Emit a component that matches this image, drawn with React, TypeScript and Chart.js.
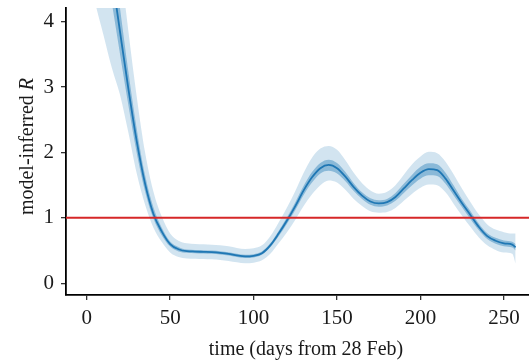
import React, { useEffect, useRef } from 'react';
import { Chart, registerables } from 'chart.js';

Chart.register(...registerables);

// ---- data ----
const days = [
  0, 5, 10, 15, 20, 25, 30, 35, 40, 45, 50, 55, 60, 65, 70, 75, 80, 85, 90, 95,
  100, 105, 110, 115, 120, 125, 130, 135, 140, 145, 150, 155, 160, 165, 170, 175,
  180, 185, 190, 195, 200, 205, 210, 215, 220, 225, 230, 235, 240, 245, 250, 255, 257,
];
const meanR = [
  7.3, 6.5, 5.6, 4.73, 3.84, 2.97, 2.17, 1.52, 1.06, 0.79, 0.6, 0.52, 0.49, 0.485, 0.48, 0.475, 0.465, 0.45, 0.425, 0.41,
  0.42, 0.46, 0.58, 0.76, 0.96, 1.18, 1.42, 1.62, 1.76, 1.81, 1.76, 1.63, 1.47, 1.34, 1.25, 1.22,
  1.24, 1.32, 1.45, 1.58, 1.69, 1.745, 1.73, 1.6, 1.41, 1.22, 1.04, 0.86, 0.72, 0.65, 0.61, 0.59, 0.55,
];
const outerLow = [
  4.9, 4.3, 3.8, 3.3, 2.88, 2.3, 1.68, 1.2, 0.85, 0.63, 0.47, 0.4, 0.38, 0.375, 0.37, 0.365, 0.355, 0.34, 0.32, 0.305,
  0.315, 0.35, 0.45, 0.61, 0.78, 0.97, 1.18, 1.36, 1.5, 1.57, 1.54, 1.43, 1.29, 1.18, 1.1, 1.08,
  1.09, 1.15, 1.26, 1.37, 1.46, 1.51, 1.5, 1.39, 1.21, 1.03, 0.86, 0.7, 0.58, 0.51, 0.47, 0.45, 0.3,
];
const outerHigh = [
  9.6, 8.5, 7.3, 6.15, 4.95, 3.85, 2.85, 2.0, 1.4, 1.02, 0.76, 0.65, 0.61, 0.6, 0.595, 0.59, 0.58, 0.565, 0.54, 0.525,
  0.535, 0.58, 0.72, 0.93, 1.16, 1.41, 1.69, 1.92, 2.06, 2.1, 2.04, 1.88, 1.69, 1.53, 1.42, 1.37,
  1.4, 1.5, 1.66, 1.82, 1.94, 2.01, 1.99, 1.86, 1.66, 1.44, 1.24, 1.05, 0.9, 0.82, 0.78, 0.76, 0.76,
];
const innerLow = [
  6.6, 5.9, 5.1, 4.3, 3.5, 2.72, 1.99, 1.4, 0.985, 0.73, 0.56, 0.485, 0.465, 0.46, 0.455, 0.45, 0.44, 0.425, 0.4, 0.385,
  0.395, 0.435, 0.55, 0.72, 0.91, 1.12, 1.35, 1.54, 1.68, 1.72, 1.68, 1.56, 1.41, 1.29, 1.2, 1.17,
  1.19, 1.26, 1.38, 1.5, 1.6, 1.65, 1.64, 1.52, 1.34, 1.16, 0.98, 0.81, 0.675, 0.605, 0.565, 0.545, 0.5,
];
const innerHigh = [
  8.0, 7.1, 6.1, 5.15, 4.2, 3.23, 2.36, 1.65, 1.16, 0.85, 0.64, 0.555, 0.515, 0.51, 0.505, 0.5, 0.49, 0.475, 0.45, 0.435,
  0.445, 0.485, 0.61, 0.8, 1.01, 1.24, 1.49, 1.7, 1.84, 1.89, 1.84, 1.7, 1.53, 1.39, 1.3, 1.27,
  1.29, 1.38, 1.52, 1.66, 1.78, 1.835, 1.82, 1.69, 1.49, 1.28, 1.1, 0.91, 0.765, 0.695, 0.655, 0.635, 0.6,
];
const xTicks = [0, 50, 100, 150, 200, 250];
const yTicks = [0, 1, 2, 3, 4];
const thresholdR = 1;
const X_MIN = -12.4;
const X_MAX = 275.2;
const Y_MIN = -0.18;
const Y_MAX = 4.21;
const X_TITLE = 'time (days from 28 Feb)';
const Y_TITLE_MAIN = 'model-inferred ';
const Y_TITLE_VAR = 'R';

const FAMILY = "'Liberation Serif', 'Times New Roman', serif";
const TEXT_COLOR = '#1a1a1a';
const BLUE = '#1f77b4';

const pts = (arr: number[]) => days.map((d, i) => ({ x: d, y: arr[i] }));

const overlayPlugin = {
  id: 'overlay',
  afterDatasetsDraw(chart: any) {
    const { ctx, chartArea, scales } = chart;
    const y = scales.y.getPixelForValue(thresholdR);
    ctx.save();
    ctx.strokeStyle = '#d62728';
    ctx.lineWidth = 2;
    ctx.beginPath();
    ctx.moveTo(chartArea.left, y);
    ctx.lineTo(chartArea.right, y);
    ctx.stroke();
    ctx.restore();
  },
  afterDraw(chart: any) {
    const { ctx, chartArea } = chart;
    const cy = (chartArea.top + chartArea.bottom) / 2 - 5;
    ctx.save();
    ctx.translate(33, cy);
    ctx.rotate(-Math.PI / 2);
    ctx.fillStyle = TEXT_COLOR;
    ctx.textBaseline = 'alphabetic';
    const f1 = `20px ${FAMILY}`;
    const f2 = `italic 20px ${FAMILY}`;
    ctx.font = f1;
    const w1 = ctx.measureText(Y_TITLE_MAIN).width;
    ctx.font = f2;
    const w2 = ctx.measureText(Y_TITLE_VAR).width;
    const start = -(w1 + w2) / 2;
    ctx.font = f1;
    ctx.fillText(Y_TITLE_MAIN, start, 0);
    ctx.font = f2;
    ctx.fillText(Y_TITLE_VAR, start + w1, 0);
    ctx.restore();
  },
};

export default function App() {
  const ref = useRef<HTMLCanvasElement>(null);

  useEffect(() => {
    document.documentElement.style.overflow = 'hidden';
    document.body.style.margin = '0';
    document.body.style.overflow = 'hidden';

    const band = {
      pointRadius: 0,
      borderWidth: 0,
      cubicInterpolationMode: 'monotone' as const,
      clip: 0,
    };
    const tickFont = { family: FAMILY, size: 21 };
    const titleFont = { family: FAMILY, size: 20 };

    const chart = new Chart(ref.current!, {
      type: 'line',
      data: {
        datasets: [
          { ...band, label: 'outer high', data: pts(outerHigh), fill: '+1', backgroundColor: 'rgba(31,119,180,0.2)', borderColor: 'rgba(0,0,0,0)', order: 3 },
          { ...band, label: 'outer low', data: pts(outerLow), fill: false, borderColor: 'rgba(0,0,0,0)', order: 3 },
          { ...band, label: 'inner high', data: pts(innerHigh), fill: '+1', backgroundColor: 'rgba(31,119,180,0.4)', borderColor: 'rgba(0,0,0,0)', order: 2 },
          { ...band, label: 'inner low', data: pts(innerLow), fill: false, borderColor: 'rgba(0,0,0,0)', order: 2 },
          {
            label: 'R',
            data: pts(meanR),
            borderColor: BLUE,
            borderWidth: 1.8,
            pointRadius: 0,
            fill: false,
            cubicInterpolationMode: 'monotone',
            clip: 0,
            order: 1,
          },
        ],
      },
      options: {
        animation: false,
        responsive: false,
        devicePixelRatio: 1,
        layout: { padding: { top: 8, right: 14, left: 0, bottom: 0 } },
        plugins: { legend: { display: false }, tooltip: { enabled: false } },
        scales: {
          x: {
            type: 'linear',
            min: X_MIN,
            max: X_MAX,
            afterBuildTicks: (s: any) => { s.ticks = xTicks.map((v) => ({ value: v })); },
            afterFit: (s: any) => { s.height = 67; s.paddingLeft = 0; s.paddingRight = 0; },
            grid: { display: true, drawOnChartArea: false, drawTicks: true, tickLength: 5, color: '#333', lineWidth: 1.3 },
            border: { display: true, color: '#000', width: 1.8 },
            ticks: { font: tickFont, color: TEXT_COLOR, padding: 6, maxRotation: 0, autoSkip: false },
            title: { display: true, text: X_TITLE, font: titleFont, color: TEXT_COLOR, padding: { top: 0, bottom: 0 } },
          },
          y: {
            type: 'linear',
            min: Y_MIN,
            max: Y_MAX,
            afterBuildTicks: (s: any) => { s.ticks = yTicks.map((v) => ({ value: v })); },
            afterFit: (s: any) => { s.width = 66; s.paddingTop = 0; s.paddingBottom = 0; },
            grid: { display: true, drawOnChartArea: false, drawTicks: true, tickLength: 5, color: '#333', lineWidth: 1.3 },
            border: { display: true, color: '#000', width: 1.8 },
            ticks: { font: tickFont, color: TEXT_COLOR, padding: 7, autoSkip: false },
          },
        },
      },
      plugins: [overlayPlugin],
    } as any);

    return () => chart.destroy();
  }, []);

  return (
    <canvas
      ref={ref}
      width={560}
      height={362}
      style={{ display: 'block', width: '560px', height: '362px' }}
    />
  );
}
